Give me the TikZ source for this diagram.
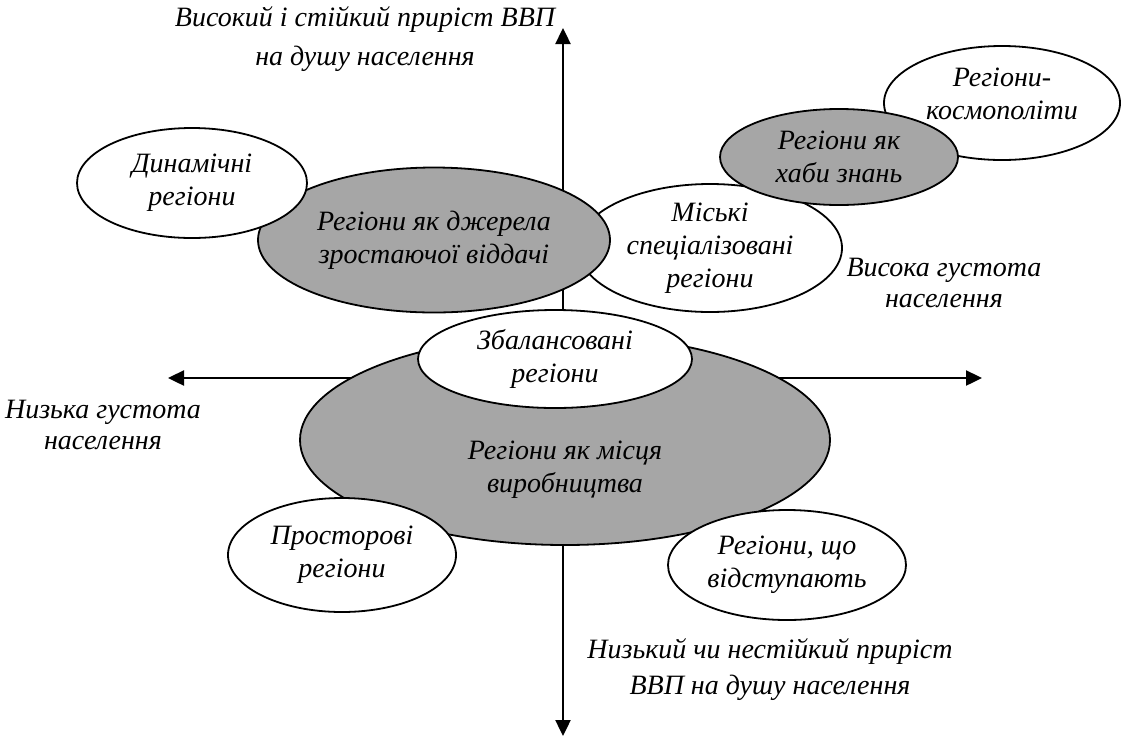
\documentclass[tikz,border=0pt]{standalone}
\usepackage{fontspec}
\setmainfont{Liberation Serif}
\usepackage{xcolor}
\usepackage{tikz}
\usetikzlibrary{shapes.geometric, arrows.meta}

\definecolor{regiongray}{RGB}{166,166,166}

\tikzset{
    region/.style={ellipse, draw=black, line width=1.8pt, fill=white, inner sep=0pt,
        align=center, font=\fontsize{28}{33}\selectfont\itshape},
    shaded/.style={region, fill=regiongray},
    axislabel/.style={align=center, font=\fontsize{28}{36}\selectfont\itshape},
    axis/.style={line width=2.4pt, -{Triangle[length=16pt, width=15pt]}}
}

\begin{document}
\begin{tikzpicture}[x=1pt, y=-1pt]
    \useasboundingbox (0,0) rectangle (1141,740);

    % axes
    \coordinate (O) at (563,378);
    \coordinate (top) at (563,28);
    \coordinate (bottom) at (563,736);
    \coordinate (left) at (168,378);
    \coordinate (right) at (982,378);
    \draw[axis] (O) -- (top);
    \draw[axis] (O) -- (bottom);
    \draw[axis] (O) -- (left);
    \draw[axis] (O) -- (right);

    % axis labels
    \node[axislabel, font=\fontsize{28}{39}\selectfont\itshape] (hiGDP) at (365,39) {Високий і стійкий приріст ВВП\\на душу населення};
    \node[axislabel, font=\fontsize{28}{31}\selectfont\itshape] (loDens) at (103,425) {Низька густота\\населення};
    \node[axislabel, font=\fontsize{28}{31}\selectfont\itshape] (hiDens) at (944,283) {Висока густота\\населення};
    \node[axislabel] (loGDP) at (770,670) {Низький чи нестійкий приріст\\ВВП на душу населення};

    % regions, upper half
    \node[region, minimum width=264pt, minimum height=110pt] (urban) at (710,248) {Міські\\спеціалізовані\\регіони};
    \node[shaded, minimum width=352pt, minimum height=145pt] (returns) at (434,240) {Регіони як джерела\\зростаючої віддачі};
    \node[region, minimum width=230pt, minimum height=110pt] (dynamic) at (192,183) {Динамічні\\регіони};
    \node[region, minimum width=236pt, minimum height=114pt] (cosmo) at (1002,103)
        {\raisebox{0pt}[0pt][0pt]{\begin{tabular}{@{}c@{}}Регіони-\\космополіти\end{tabular}}};
    \node[shaded, minimum width=238pt, minimum height=96pt] (hubs) at (839,157) {Регіони як\\хаби знань};

    % regions, lower half
    \node[shaded, minimum width=530pt, minimum height=210pt] (production) at (565,440)
        {\raisebox{-36pt}[0pt][0pt]{\begin{tabular}{@{}c@{}}Регіони як місця\\виробництва\end{tabular}}};
    \node[region, minimum width=274pt, minimum height=98pt] (balanced) at (555,359) {Збалансовані\\регіони};
    \node[region, minimum width=228pt, minimum height=114pt] (spatial) at (342,555) {Просторові\\регіони};
    \node[region, minimum width=238pt, minimum height=110pt] (lagging) at (787,565) {Регіони, що\\відступають};
\end{tikzpicture}
\end{document}
